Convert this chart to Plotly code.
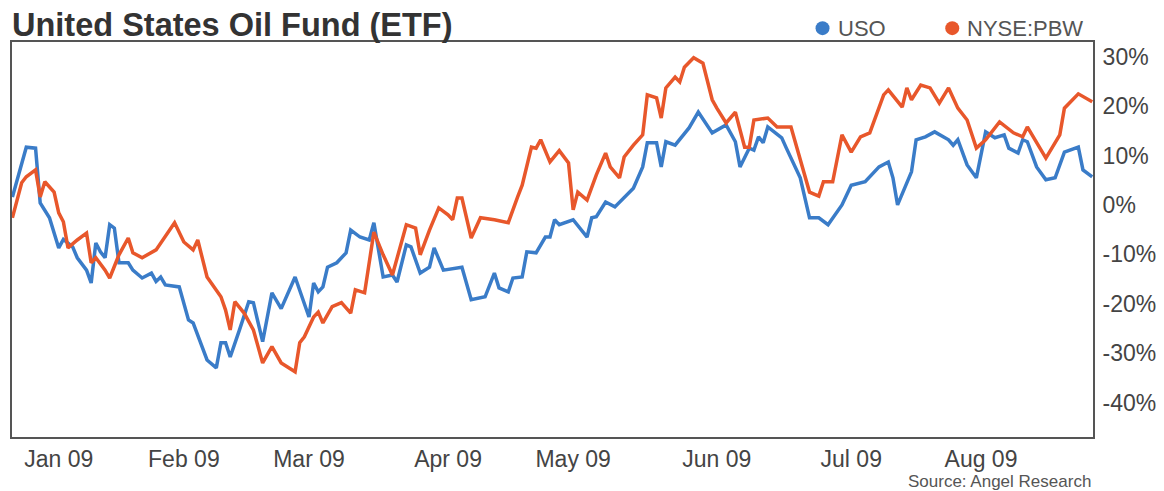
import pandas as pd
import plotly.graph_objects as go

# Days since 2008-12-31 and cumulative % change
uso_days = [0, 3, 5, 6, 8, 9, 10, 11, 13, 14, 16, 17, 18, 19, 20, 21, 22, 23, 25, 26,
            28, 30, 31, 32, 33, 36, 38, 39, 42, 44, 45, 46, 47, 49, 51, 52, 54, 56, 58, 61,
            64, 65, 66, 67, 68, 70, 72, 73, 75, 77, 78, 80, 82, 83, 85, 86, 88, 90, 91, 93,
            97, 99, 102, 104, 105, 107, 108, 110, 111, 113, 115, 116, 117, 118, 121, 124, 125, 126, 128, 130,
            132, 134, 136, 137, 139, 140, 141, 143, 146, 148, 151, 154, 156, 157, 159, 160, 161, 162, 163, 166,
            167, 170, 172, 174, 176, 179, 181, 184, 187, 189, 190, 191, 194, 195, 197, 199, 202, 203, 204, 206,
            208, 210, 212, 214, 215, 217, 218, 219, 221, 223, 225, 227, 230, 231, 233]
uso_pct = [1.6, 11.7, 11.5, 0.4, -2.6, -5.7, -8.7, -7.0, -8.5, -10.7, -13.2, -15.8, -7.7, -9.5, -10.7, -4.0, -4.7, -11.7, -11.7, -13.2,
           -14.8, -13.8, -15.5, -14.6, -16.2, -16.6, -23.3, -23.9, -31.4, -33.0, -27.9, -27.9, -30.8, -25.3, -19.6, -19.8, -27.7, -17.8, -21.0, -14.6,
           -22.7, -15.8, -17.6, -16.6, -12.6, -11.7, -9.7, -5.1, -6.5, -7.1, -3.6, -14.6, -14.2, -15.6, -8.1, -8.5, -13.8, -12.6, -8.7, -13.2,
           -12.6, -19.2, -18.6, -13.8, -16.8, -17.6, -14.8, -14.6, -9.5, -9.7, -6.5, -6.5, -3.0, -4.0, -3.0, -6.5, -2.6, -2.4, 0.6, -0.4,
           1.4, 3.4, 7.7, 12.6, 12.6, 7.7, 12.8, 12.1, 15.6, 18.8, 14.6, 16.2, 12.8, 7.7, 11.5, 11.1, 13.8, 12.6, 15.8, 13.6,
           11.5, 5.5, -2.6, -2.6, -4.0, 0.0, 4.0, 4.7, 7.7, 8.7, 5.5, 0.0, 6.7, 13.2, 13.8, 14.8, 13.2, 12.1, 13.2, 8.1,
           5.5, 14.8, 13.6, 14.2, 11.5, 10.5, 13.2, 12.8, 7.7, 5.1, 5.5, 10.7, 11.7, 7.1, 5.7]

pbw_days = [0, 2, 3, 5, 6, 7, 9, 10, 11, 12, 14, 16, 17, 18, 20, 21, 23, 25, 26, 28,
            31, 32, 34, 35, 37, 39, 40, 42, 45, 46, 47, 48, 50, 52, 54, 56, 58, 61, 62, 63,
            65, 66, 67, 69, 71, 73, 74, 76, 78, 80, 82, 85, 87, 88, 90, 92, 94, 95, 96, 97,
            99, 101, 104, 107, 109, 110, 112, 113, 114, 116, 118, 120, 121, 122, 124, 126, 128, 129, 131, 132,
            134, 136, 137, 139, 140, 141, 143, 144, 145, 147, 149, 151, 152, 154, 156, 158, 159, 160, 163, 165,
            168, 172, 174, 175, 177, 179, 181, 183, 185, 188, 189, 192, 193, 194, 196, 198, 200, 202, 204, 206,
            208, 210, 213, 216, 218, 219, 223, 226, 227, 230, 233]
pbw_pct = [-2.6, 4.5, 5.7, 7.1, 1.6, 4.7, 2.6, -1.6, -3.4, -8.7, -7.1, -5.7, -11.7, -10.7, -13.2, -14.8, -10.1, -6.7, -9.7, -10.7,
           -9.1, -7.7, -4.7, -3.6, -7.5, -9.1, -7.1, -14.6, -18.6, -21.3, -25.3, -19.6, -21.9, -25.3, -32.0, -28.7, -32.0, -33.8, -27.9, -26.7,
           -22.7, -21.7, -23.9, -20.6, -19.8, -21.9, -17.2, -17.8, -5.5, -10.1, -14.2, -4.0, -4.7, -10.1, -5.1, -0.6, -2.0, -3.0, 1.4, 1.4,
           -6.7, -2.6, -3.0, -3.6, 1.6, 4.0, 11.7, 11.5, 13.2, 8.7, 11.0, 8.5, -1.0, 2.6, 1.0, 6.1, 10.5, 7.7, 5.5, 9.7,
           12.1, 14.2, 22.3, 21.7, 17.6, 23.7, 25.9, 24.9, 27.9, 29.8, 28.7, 21.3, 19.6, 16.6, 18.8, 11.7, 11.7, 17.2, 17.6, 15.8,
           15.8, 2.6, 1.8, 4.7, 4.7, 14.2, 10.7, 13.8, 14.6, 22.3, 23.3, 19.8, 23.7, 21.3, 24.3, 23.7, 20.6, 23.7, 19.6, 17.2,
           11.5, 13.2, 16.8, 14.6, 13.8, 15.8, 9.5, 14.2, 19.6, 22.5, 20.9]

start = pd.Timestamp("2008-12-31")
uso_dates = start + pd.to_timedelta(uso_days, unit="D")
pbw_dates = start + pd.to_timedelta(pbw_days, unit="D")

tick_dates = ["2009-01-10", "2009-02-06", "2009-03-05", "2009-04-04",
              "2009-05-01", "2009-06-01", "2009-06-30", "2009-07-28"]
tick_text = ["Jan 09", "Feb 09", "Mar 09", "Apr 09", "May 09", "Jun 09", "Jul 09", "Aug 09"]
y_ticks = [30, 20, 10, 0, -10, -20, -30, -40]

BLUE = "#3a7cc8"
ORANGE = "#e8572b"
FONT = "Liberation Sans, Arial, sans-serif"

fig = go.Figure()
fig.add_trace(go.Scatter(x=uso_dates, y=uso_pct, mode="lines", name="USO",
                         line=dict(color=BLUE, width=3.5)))
fig.add_trace(go.Scatter(x=pbw_dates, y=pbw_pct, mode="lines", name="NYSE:PBW",
                         line=dict(color=ORANGE, width=3.5)))

# The page body adds an 8px margin, so the figure is 8px smaller than the window.
fig.update_layout(
    width=1156, height=483,
    margin=dict(l=2, r=71, t=34, b=54),
    paper_bgcolor="white", plot_bgcolor="white",
    showlegend=False,
    font=dict(family=FONT, color="#444"),
    title=dict(text="<b>United States Oil Fund (ETF)</b>", x=0.0, xanchor="left", xref="paper",
               y=0.966, yanchor="middle", font=dict(size=32.5, color="#333", family=FONT)),
)
fig.update_xaxes(
    type="date", range=["2008-12-30 22:00", "2009-08-21 04:00"],
    tickvals=tick_dates, ticktext=tick_text, ticks="",
    tickfont=dict(size=23, color="#444"),
    showgrid=False, zeroline=False,
    showline=True, linecolor="#555", linewidth=2, mirror=True,
)
fig.update_yaxes(
    side="right", range=[-47.0, 33.0],
    tickvals=y_ticks, ticktext=[f"{v}%" for v in y_ticks], ticks="",
    tickfont=dict(size=23, color="#444"), ticklabelstandoff=3,
    showgrid=False, zeroline=False,
    showline=True, linecolor="#555", linewidth=2, mirror=True,
)

fig.add_annotation(xref="paper", yref="paper", x=1.0, y=-0.113, xanchor="right", yanchor="middle",
                   text="Source: Angel Research", showarrow=False,
                   font=dict(size=17, color="#555", family=FONT))

# Legend: dots + labels above the plot
legend_items = [("USO", BLUE, 0.7498, 0.7627), ("NYSE:PBW", ORANGE, 0.8698, 0.8818)]
for label, color, xdot, xtext in legend_items:
    fig.add_shape(type="circle", xref="paper", yref="paper",
                  xsizemode="pixel", ysizemode="pixel",
                  xanchor=xdot, yanchor=1.035, x0=-7, x1=7, y0=-7, y1=7,
                  fillcolor=color, line=dict(width=0))
    fig.add_annotation(xref="paper", yref="paper", x=xtext, y=1.035, xanchor="left", yanchor="middle",
                       text=label, showarrow=False, font=dict(size=22, color="#555", family=FONT))

fig.write_html("out.html")
